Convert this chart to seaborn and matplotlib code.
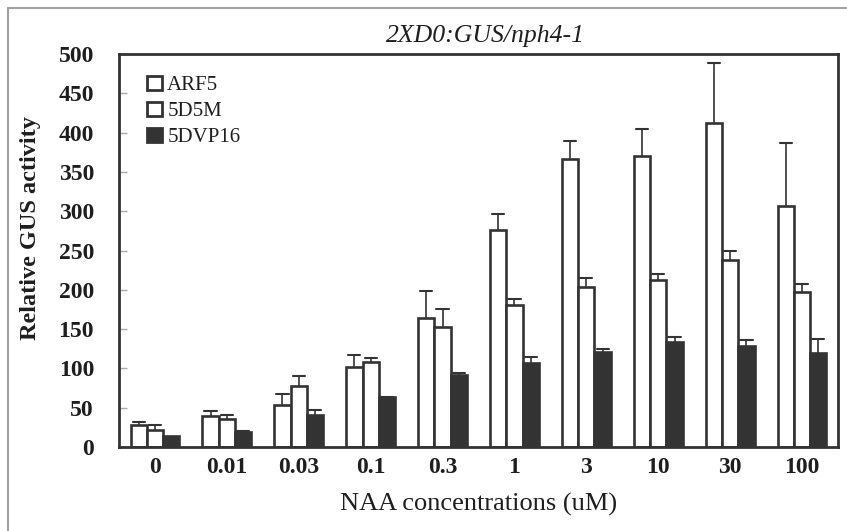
import numpy as np
import pandas as pd
import matplotlib
matplotlib.use("Agg")
import matplotlib.pyplot as plt
import seaborn as sns
from matplotlib.patches import Patch
from matplotlib.lines import Line2D

concs = ['0', '0.01', '0.03', '0.1', '0.3', '1', '3', '10', '30', '100']
series_names = ['ARF5', '5D5M', '5DVP16']
arf5 = [28, 40, 54, 102, 164, 276, 367, 370, 412, 307]
arf5_err = [3.5, 5.5, 13.5, 15, 34, 21, 22, 34, 77, 80]
d5m = [21, 36, 77, 108, 153, 181, 203, 212, 238, 197]
d5m_err = [7, 4.5, 13.5, 5.5, 23, 7.5, 11.5, 7.5, 11, 10]
vp16 = [14, 19, 41, 63, 92, 107, 121, 133, 129, 120]
vp16_err = [0, 0.8, 6.5, 1, 2.5, 7.5, 3.5, 7.5, 7, 18]

title = '2XD0:GUS/nph4-1'
xlabel = 'NAA concentrations (uM)'
ylabel = 'Relative GUS activity'
yticks = [0, 50, 100, 150, 200, 250, 300, 350, 400, 450, 500]

dark = '#333333'
txt = '#1e1e1e'
colors = ['white', 'white', dark]

df = pd.DataFrame({
    'conc': concs * 3,
    'construct': sum([[s] * len(concs) for s in series_names], []),
    'value': arf5 + d5m + vp16,
})
errs = [arf5_err, d5m_err, vp16_err]
vals = [arf5, d5m, vp16]

sns.set_style('white')
plt.rcParams['font.family'] = ['Liberation Serif', 'DejaVu Serif']

fig = plt.figure(figsize=(8.47, 5.31), dpi=100)
ax = fig.add_axes([119 / 847, 1 - 447 / 531, (838 - 119) / 847, (447 - 54) / 531])

sns.barplot(data=df, x='conc', y='value', hue='construct', order=concs,
            hue_order=series_names, palette=colors, edgecolor=dark,
            linewidth=1.9, width=0.68, gap=0, ax=ax, legend=False,
            saturation=1)

# error bars (upper only)
for cont, v, e in zip(ax.containers, vals, errs):
    xs = [p.get_x() + p.get_width() / 2 for p in cont.patches]
    top = np.array(v) + np.array(e)
    for x, y0, y1, ee in zip(xs, v, top, e):
        if ee <= 0:
            continue
        ax.plot([x, x], [y0, y1], color=dark, lw=1.2, zorder=1.5, solid_capstyle='butt')
        ax.plot([x - 0.085, x + 0.085], [y1, y1], color=dark, lw=1.5, zorder=1.5)

ax.set_xlim(-0.5, 9.5)
ax.set_ylim(0, 500)
ax.set_yticks(yticks)
ax.set_yticklabels([str(t) for t in yticks], fontsize=17, fontweight='bold', color=txt)
ax.set_xticks(range(len(concs)))
ax.set_xticklabels(concs, fontsize=17, fontweight='bold', color=txt)
ax.set_xticks(np.arange(0.5, 9, 1), minor=True)
ax.tick_params(axis='x', which='major', length=0, pad=7)
ax.tick_params(axis='x', which='minor', direction='in', length=5, width=1, color='#aaaaaa')
ax.tick_params(axis='y', which='major', direction='in', length=6, width=1, color='#aaaaaa', pad=18, left=True)

for s in ax.spines.values():
    s.set_visible(True)
    s.set_color(dark)
    s.set_linewidth(2.0)

ax.set_xlabel(xlabel, fontsize=19, color=txt)
ax.xaxis.set_label_coords(0.5, -0.118)
ax.set_ylabel(ylabel, fontsize=17.5, fontweight='bold', color=txt)
ax.yaxis.set_label_coords(-0.108, 0.557)
ax.set_title(title, fontsize=18.5, style='italic', color=txt, x=0.51, y=1.03, pad=0)

handles = [Patch(facecolor=c, edgecolor=dark, linewidth=2.0) for c in colors]
leg = ax.legend(handles, series_names, loc='upper left', bbox_to_anchor=(0.039, 0.945),
                frameon=False, fontsize=15, handlelength=0.72, handleheight=0.72,
                handletextpad=0.25, labelspacing=0.3, borderpad=0, borderaxespad=0)
for t in leg.get_texts():
    t.set_color(txt)

fig.add_artist(Line2D([7.5 / 847, 7.5 / 847], [0, 1 - 7.5 / 531], color='#a0a0a0', lw=1.5,
                      transform=fig.transFigure))
fig.add_artist(Line2D([7.5 / 847, 1], [1 - 7.5 / 531, 1 - 7.5 / 531], color='#a0a0a0', lw=1.5,
                      transform=fig.transFigure))

fig.savefig('out.png', dpi=100)
